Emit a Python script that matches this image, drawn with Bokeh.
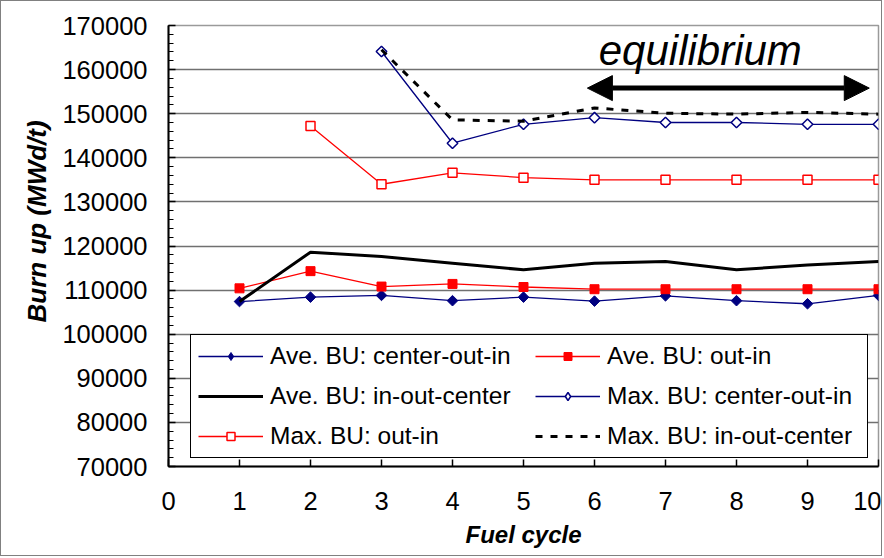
import numpy as np
from bokeh.plotting import figure
from bokeh.models import (Range1d, FixedTicker, Legend, LegendItem, Arrow,
                          NormalHead, Label, Title)
from bokeh.embed import file_html
from bokeh.resources import INLINE

# ---------------- data ----------------
cycles = [1, 2, 3, 4, 5, 6, 7, 8, 9, 10]
ave_center_out_in = [107400, 108400, 108800, 107600, 108400, 107500, 108700, 107600, 106900, 108800]
ave_out_in = [110400, 114300, 110800, 111400, 110700, 110200, 110200, 110200, 110200, 110200]
ave_in_out_center = [107400, 118600, 117600, 116100, 114600, 116100, 116500, 114600, 115700, 116500]

max_cycles_coi = [3, 4, 5, 6, 7, 8, 9, 10]
max_center_out_in = [164100, 143300, 147600, 149100, 148000, 148000, 147600, 147600]
max_cycles_oi = [2, 3, 4, 5, 6, 7, 8, 9, 10]
max_out_in = [147200, 134000, 136600, 135500, 135000, 135000, 135000, 135000, 135000]
max_cycles_ioc = [3, 4, 5, 6, 7, 8, 9, 10]
max_in_out_center = [164500, 148600, 148300, 151300, 150100, 149900, 150300, 149900]

x_ticks = [0, 1, 2, 3, 4, 5, 6, 7, 8, 9, 10]
y_ticks = [70000, 80000, 90000, 100000, 110000, 120000, 130000, 140000, 150000, 160000, 170000]
y_minor = list(range(70000, 170001, 2000))

labels = ["Ave. BU: center-out-in", "Ave. BU: out-in", "Ave. BU: in-out-center",
          "Max. BU: center-out-in", "Max. BU: out-in", "Max. BU: in-out-center"]

x_title = "Fuel cycle"
y_title = "Burn up (MWd/t)"

eq_text = "equilibrium"
eq_x0, eq_x1, eq_y = 5.9, 9.87, 155800
eq_label_x, eq_label_y = 7.49, 164300

FONT = "Liberation Sans"
NAVY = "#000080"
RED = "#FF0000"

p = figure(width=882, height=556, output_backend="svg", toolbar_location=None,
           x_range=Range1d(0, 10), y_range=Range1d(70000, 170000),
           min_border_left=167, min_border_right=5, min_border_top=24,
           min_border_bottom=91, background_fill_color="white",
           border_fill_color="white")

p.styles = {"border": "1px solid #808080"}

# grid / outline
p.xgrid.visible = False
p.ygrid.ticker = FixedTicker(ticks=y_ticks)
p.ygrid.grid_line_color = "#707070"
p.ygrid.grid_line_width = 1.5
p.outline_line_color = "#9a9a9a"
p.outline_line_width = 1.5

# axes
p.xaxis.ticker = FixedTicker(ticks=x_ticks)
p.yaxis.ticker = FixedTicker(ticks=y_ticks, minor_ticks=y_minor)
for ax in (p.xaxis, p.yaxis):
    ax.axis_line_color = "black"
    ax.axis_line_width = 2
    ax.major_tick_in = 7
    ax.major_tick_out = 0
    ax.major_tick_line_color = "black"
    ax.major_tick_line_width = 1.5
    ax.major_label_text_font = FONT
    ax.major_label_text_font_size = "25.5px"
    ax.major_label_text_color = "black"
    ax.axis_label_text_font = FONT
    ax.axis_label_text_font_style = "bold italic"
    ax.axis_label_text_color = "black"
p.xaxis.minor_tick_line_color = None
p.yaxis.minor_tick_in = 5
p.yaxis.minor_tick_out = 0
p.yaxis.minor_tick_line_color = "black"
p.yaxis.minor_tick_line_width = 1

p.yaxis.formatter.use_scientific = False
p.xaxis.major_label_standoff = 25
p.yaxis.major_label_standoff = 21
p.xaxis.axis_label = x_title
p.xaxis.axis_label_text_font_size = "24px"
p.xaxis.axis_label_standoff = 8

# y title as a left-side Title so it can sit above the axis centre as in the original
p.add_layout(Title(text=y_title, align="left", offset=144, standoff=15,
                   text_font=FONT, text_font_style="bold italic",
                   text_font_size="26px", text_color="black"), "left")

# series
r1l = p.line(cycles, ave_center_out_in, line_color=NAVY, line_width=1.3)
r1m = p.scatter(cycles, ave_center_out_in, marker="square", angle=np.pi / 4,
                size=7.5, fill_color=NAVY, line_color=NAVY)

r2l = p.line(cycles, ave_out_in, line_color=RED, line_width=1.3)
r2m = p.scatter(cycles, ave_out_in, marker="square", size=9,
                fill_color=RED, line_color=RED)

r3l = p.line(cycles, ave_in_out_center, line_color="black", line_width=3)

r4l = p.line(max_cycles_coi, max_center_out_in, line_color=NAVY, line_width=1.3)
r4m = p.scatter(max_cycles_coi, max_center_out_in, marker="square", angle=np.pi / 4,
                size=7.5, fill_color="white", line_color=NAVY, line_width=1.5)

r5l = p.line(max_cycles_oi, max_out_in, line_color=RED, line_width=1.3)
r5m = p.scatter(max_cycles_oi, max_out_in, marker="square", size=9,
                fill_color="white", line_color=RED, line_width=1.5)

r6l = p.line(max_cycles_ioc, max_in_out_center, line_color="black", line_width=3,
             line_dash="7 8")

# legend-only diamond symbols (the legend does not rotate markers)
leg_d1 = p.scatter([np.nan], [np.nan], marker="diamond", size=13,
                   fill_color=NAVY, line_color=NAVY)
leg_d4 = p.scatter([np.nan], [np.nan], marker="diamond", size=13,
                   fill_color="white", line_color=NAVY, line_width=1.5)

# annotation
p.add_layout(Arrow(start=NormalHead(size=25, fill_color="black", line_color="black"),
                   end=NormalHead(size=25, fill_color="black", line_color="black"),
                   x_start=eq_x0, y_start=eq_y, x_end=eq_x1, y_end=eq_y,
                   line_width=5, line_color="black"))
p.add_layout(Label(x=eq_label_x, y=eq_label_y, text=eq_text, text_font=FONT,
                   text_font_style="italic", text_font_size="42px",
                   text_align="center", text_baseline="alphabetic",
                   text_color="black"))

# legend (Bokeh fills columns first, so order items column by column)
items = {
    0: LegendItem(label=labels[0], renderers=[r1l, leg_d1]),
    1: LegendItem(label=labels[1], renderers=[r2l, r2m]),
    2: LegendItem(label=labels[2], renderers=[r3l]),
    3: LegendItem(label=labels[3], renderers=[r4l, leg_d4]),
    4: LegendItem(label=labels[4], renderers=[r5l, r5m]),
    5: LegendItem(label=labels[5], renderers=[r6l]),
}
legend = Legend(items=[items[i] for i in (0, 2, 4, 1, 3, 5)],
                location=(22, 8), ncols=2)
legend.label_text_font = FONT
legend.label_text_font_size = "24.5px"
legend.label_text_color = "black"
legend.glyph_width = 65
legend.glyph_height = 20
legend.label_standoff = 7
legend.label_width = 253
legend.spacing = 12
legend.padding = 7
legend.border_line_color = "black"
legend.border_line_width = 1
legend.border_line_alpha = 1
legend.background_fill_color = "white"
legend.background_fill_alpha = 1
p.add_layout(legend)

open("out.html", "w").write(file_html(p, INLINE))
